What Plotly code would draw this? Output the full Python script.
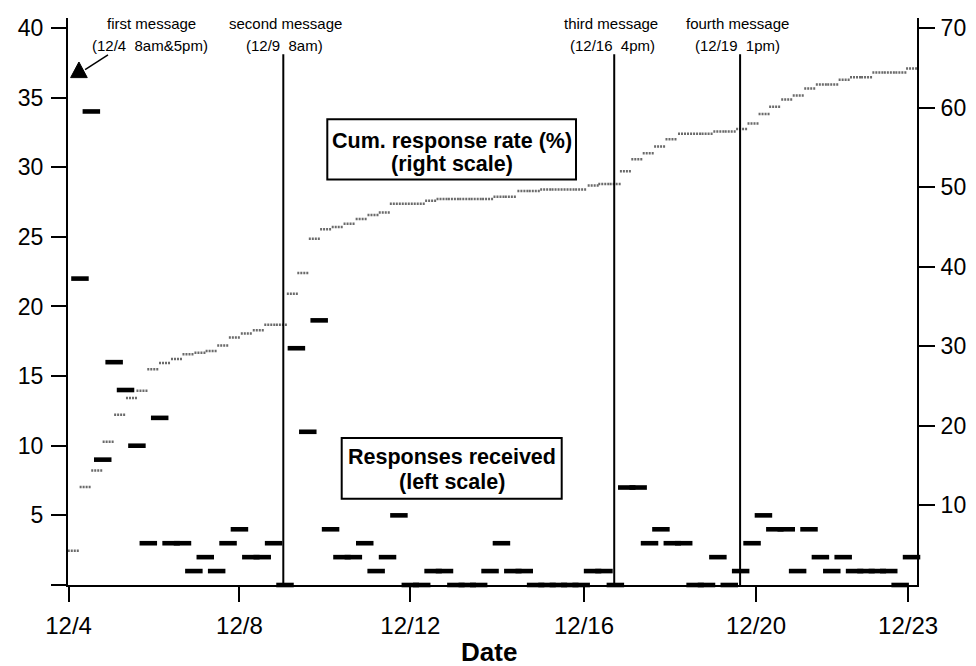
import plotly.graph_objects as go

# ---------------- data ----------------
# responses received per time bin (bin index 1..74), left scale
bin_index = list(range(1, 75))
responses = [22, 34, 9, 16, 14, 10, 3, 12, 3, 3, 1, 2, 1, 3, 4, 2, 2, 3, 0, 17,
             11, 19, 4, 2, 2, 3, 1, 2, 5, 0, 0, 1, 1, 0, 0, 0, 1, 3, 1, 1,
             0, 0, 0, 0, 0, 1, 1, 0, 7, 7, 3, 4, 3, 3, 0, 0, 2, 0, 1, 3,
             5, 4, 4, 1, 4, 2, 1, 2, 1, 1, 1, 1, 0, 2]

# cumulative response rate (%), right scale
cum_x = [0.43, 1.47, 2.49, 3.49, 4.5, 5.54, 6.46, 7.41, 8.44, 9.49, 10.5, 11.55, 12.53,
         13.55, 14.57, 15.62, 16.67, 17.68, 18.7, 19.66, 20.58, 21.59, 22.58, 23.6,
         24.64, 25.7, 26.74, 27.73, 28.7, 29.75, 30.8, 31.8, 32.8, 33.8, 34.8, 35.8,
         36.8, 37.8, 38.8, 39.9, 40.9, 41.9, 42.9, 43.95, 44.97, 46.07, 47.0, 48.0,
         48.9, 49.9, 50.9, 51.9, 52.9, 54.0, 55.06, 56.07, 57.1, 58.1, 59.1, 60.1,
         61.07, 62.0, 63.06, 64.07, 65.08, 66.1, 67.1, 68.1, 69.1, 70.07, 71.06,
         72.07, 73.08, 74.02]
cum_rate = [4.3, 12.3, 14.4, 18.0, 21.4, 23.5, 24.4, 27.1, 27.9, 28.4, 29.0, 29.2, 29.4,
            30.1, 31.1, 31.6, 32.0, 32.7, 32.7, 36.6, 39.2, 43.5, 44.7, 45.0, 45.4,
            46.0, 46.5, 46.8, 47.9, 47.9, 47.9, 48.3, 48.5, 48.5, 48.5, 48.5, 48.5,
            48.8, 48.8, 49.5, 49.5, 49.7, 49.7, 49.7, 49.7, 50.2, 50.4, 50.4, 52.0,
            53.5, 54.25, 55.1, 56.0, 56.7, 56.7, 56.7, 57.0, 57.0, 57.3, 58.0, 59.2,
            60.1, 61.0, 61.5, 62.4, 62.9, 62.9, 63.5, 63.8, 63.8, 64.4, 64.4, 64.4, 64.9]

# x tick labels
tick_pos = [0, 15, 30, 45.25, 60.35, 73.7]
tick_labels = ["12/4", "12/8", "12/12", "12/16", "12/20", "12/23"]

# reminder messages
message_x = [18.85, 47.9, 58.95]
message_titles = ["first message", "second message", "third message", "fourth message"]
message_times = ["(12/4\u00a0 8am&5pm)", "(12/9\u00a0 8am)", "(12/16\u00a0 4pm)", "(12/19\u00a0 1pm)"]

FONT = "Liberation Sans, Arial, sans-serif"

# plot-area geometry (page pixels) used only for placing annotations
PX0, PW, PY0, PH = 68, 849, 15, 570

def px_x(p):
    return (p - PX0) / PW

def px_y(p):
    return (PY0 + PH - p) / PH

# ---------------- figure ----------------
fig = go.Figure()

# cumulative response rate as short textured dashes
seg_x, seg_y = [], []
for xv, yv in zip(cum_x, cum_rate):
    seg_x += [xv - 0.5, xv + 0.5, None]
    seg_y += [yv, yv, None]
fig.add_trace(go.Scatter(
    x=seg_x, y=seg_y, yaxis="y2", mode="lines",
    line=dict(color="#6a6a6a", width=2.5, dash="2px,1px"),
    hoverinfo="skip", showlegend=False, cliponaxis=False))

# responses received as thick horizontal dashes
fig.add_trace(go.Scatter(
    x=bin_index, y=responses, mode="markers",
    marker=dict(symbol="line-ew", size=12.5, color="black",
                line=dict(color="black", width=4.6)),
    showlegend=False, cliponaxis=False))

# message vertical lines
for mx in message_x:
    fig.add_shape(type="line", xref="x", yref="y", x0=mx, x1=mx, y0=0, y1=38.1,
                  line=dict(color="black", width=2))

# first message triangle + arrow
fig.add_shape(type="path", xref="x", yref="y",
              path="M 0.18 36.43 L 1.64 36.43 L 0.91 37.55 Z",
              fillcolor="black", line=dict(color="black", width=1))
fig.add_shape(type="line", xref="x", yref="y", x0=3.46, y0=38.07, x1=1.45, y1=37.0,
              line=dict(color="black", width=1.5))

# message labels
title_px = [(151.5, 285, 610.5, 737), (150, 284.5, 612, 737.5)]
for i in range(4):
    for row, (txt, ypx) in enumerate([(message_titles[i], 21), (message_times[i], 43)]):
        fig.add_annotation(xref="paper", yref="paper",
                           x=px_x(title_px[row][i]), y=px_y(ypx),
                           xanchor="center", yanchor="middle", showarrow=False,
                           text=txt, font=dict(family=FONT, size=15, color="black"))

# text boxes
def box(x0px, x1px, y0px, y1px, lines):
    fig.add_shape(type="rect", xref="paper", yref="paper",
                  x0=px_x(x0px), x1=px_x(x1px), y0=px_y(y1px), y1=px_y(y0px),
                  line=dict(color="black", width=2), fillcolor="white", layer="above")
    for txt, ypx in lines:
        fig.add_annotation(xref="paper", yref="paper",
                           x=px_x((x0px + x1px) / 2), y=px_y(ypx),
                           xanchor="center", yanchor="middle", showarrow=False,
                           text="<b>" + txt + "</b>",
                           font=dict(family=FONT, size=21.5, color="black"))

box(327.3, 576, 116.7, 177.3, [("Cum. response rate (%)", 138.5), ("(right scale)", 161.5)])
box(341.7, 561.7, 437.3, 498.3, [("Responses received", 456.7), ("(left scale)", 481.7)])

# x title
fig.add_annotation(xref="paper", yref="paper", x=px_x(489), y=px_y(652),
                   xanchor="center", yanchor="middle", showarrow=False,
                   text="<b>Date</b>", font=dict(family=FONT, size=26, color="black"))

yfont = dict(family=FONT, size=23, color="black")
xfont = dict(family=FONT, size=24, color="black")
# page body has an 8px margin, so the figure is 968x658 and margins are offset by 8
fig.update_layout(
    width=968, height=658,
    margin=dict(l=PX0 - 8, r=968 - (PX0 - 8) - PW, t=PY0 - 8, b=658 - (PY0 - 8) - PH),
    paper_bgcolor="white", plot_bgcolor="white",
    showlegend=False,
    xaxis=dict(range=[-0.05, 74.48], tickmode="array", tickvals=tick_pos, ticktext=tick_labels,
               ticks="outside", ticklen=15, tickwidth=1.5, tickcolor="black",
               showline=True, linecolor="black", linewidth=2,
               showgrid=False, zeroline=False, tickfont=xfont, ticklabelstandoff=3),
    yaxis=dict(range=[0, 40.71], tickmode="array",
               tickvals=[0, 5, 10, 15, 20, 25, 30, 35, 40],
               ticktext=["", "5", "10", "15", "20", "25", "30", "35", "40"],
               ticks="outside", ticklen=15, tickwidth=1.5, tickcolor="black",
               showline=True, linecolor="black", linewidth=2,
               showgrid=False, zeroline=False, tickfont=yfont, ticklabelstandoff=3),
    yaxis2=dict(range=[0, 71.25], overlaying="y", side="right", tickmode="array",
                tickvals=[10, 20, 30, 40, 50, 60, 70],
                ticks="outside", ticklen=16, tickwidth=1.5, tickcolor="black",
                showline=True, linecolor="black", linewidth=2,
                showgrid=False, zeroline=False, tickfont=yfont, ticklabelstandoff=1),
)

fig.write_html("out.html")
